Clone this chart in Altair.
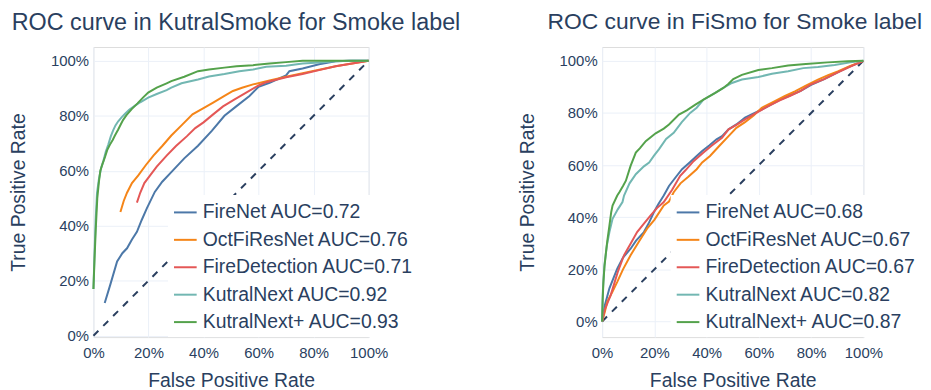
import altair as alt
import pandas as pd

FONT = "Liberation Sans"
TXT = "#2a3f5f"
GRID = "#EBF0F8"
COLORS = ["#4C78A8", "#F58518", "#E45756", "#72B7B2", "#54A24B"]
MODELS = ["FireNet", "OctFiResNet", "FireDetection", "KutralNext", "KutralNext+"]

# ---------------- KutralSmoke ----------------
KS_AUC = ["0.72", "0.76", "0.71", "0.92", "0.93"]

KS_FIRENET_FPR = [0.041, 0.061, 0.086, 0.105, 0.122, 0.14, 0.158, 0.175, 0.194, 0.223, 0.25, 0.283, 0.33, 0.38, 0.43, 0.476, 0.52, 0.567, 0.60, 0.64, 0.70, 0.712, 0.76, 0.82, 0.88, 0.93, 1.0]
KS_FIRENET_TPR = [0.119, 0.185, 0.27, 0.30, 0.318, 0.35, 0.378, 0.42, 0.463, 0.523, 0.56, 0.595, 0.645, 0.691, 0.745, 0.80, 0.835, 0.872, 0.905, 0.92, 0.947, 0.962, 0.972, 0.987, 0.998, 1.0, 1.0]

KS_OCT_FPR = [0.098, 0.11, 0.122, 0.14, 0.163, 0.19, 0.218, 0.25, 0.283, 0.32, 0.36, 0.40, 0.435, 0.476, 0.507, 0.54, 0.58, 0.64, 0.70, 0.76, 0.82, 0.88, 0.94, 1.0]
KS_OCT_TPR = [0.45, 0.49, 0.52, 0.555, 0.583, 0.62, 0.655, 0.69, 0.728, 0.765, 0.805, 0.828, 0.848, 0.872, 0.89, 0.902, 0.914, 0.928, 0.942, 0.955, 0.967, 0.98, 0.99, 1.0]

KS_FIREDET_FPR = [0.158, 0.17, 0.185, 0.206, 0.23, 0.266, 0.30, 0.339, 0.37, 0.40, 0.435, 0.471, 0.51, 0.555, 0.60, 0.628, 0.70, 0.76, 0.82, 0.88, 0.94, 1.0]
KS_FIREDET_TPR = [0.484, 0.52, 0.555, 0.583, 0.615, 0.655, 0.69, 0.725, 0.755, 0.776, 0.805, 0.834, 0.858, 0.884, 0.91, 0.922, 0.94, 0.952, 0.966, 0.98, 0.99, 1.0]

KS_KNEXT_FPR = [0.0, 0.004, 0.008, 0.013, 0.02, 0.028, 0.036, 0.045, 0.054, 0.063, 0.072, 0.08, 0.09, 0.103, 0.115, 0.13, 0.15, 0.17, 0.199, 0.23, 0.266, 0.283, 0.32, 0.38, 0.42, 0.476, 0.53, 0.58, 0.628, 0.70, 0.76, 0.82, 0.88, 0.94, 1.0]
KS_KNEXT_TPR = [0.17, 0.30, 0.42, 0.52, 0.57, 0.61, 0.635, 0.67, 0.695, 0.725, 0.748, 0.765, 0.78, 0.795, 0.807, 0.822, 0.836, 0.849, 0.866, 0.879, 0.893, 0.902, 0.918, 0.932, 0.943, 0.952, 0.962, 0.968, 0.978, 0.982, 0.99, 0.994, 0.998, 1.0, 1.0]

KS_KNEXTP_FPR = [0.0, 0.004, 0.009, 0.014, 0.02, 0.025, 0.033, 0.042, 0.05, 0.06, 0.07, 0.078, 0.09, 0.10, 0.108, 0.12, 0.139, 0.16, 0.18, 0.199, 0.23, 0.266, 0.283, 0.33, 0.38, 0.42, 0.476, 0.52, 0.58, 0.64, 0.70, 0.76, 1.0]
KS_KNEXTP_TPR = [0.17, 0.28, 0.40, 0.50, 0.56, 0.60, 0.625, 0.65, 0.675, 0.695, 0.712, 0.728, 0.75, 0.77, 0.785, 0.802, 0.824, 0.845, 0.866, 0.884, 0.902, 0.918, 0.926, 0.942, 0.962, 0.968, 0.975, 0.98, 0.984, 0.99, 0.995, 1.0, 1.0]

# ---------------- FiSmo ----------------
FS_AUC = ["0.68", "0.67", "0.67", "0.82", "0.87"]

FS_FIRENET_FPR = [0.0, 0.01, 0.028, 0.045, 0.058, 0.08, 0.109, 0.13, 0.16, 0.18, 0.198, 0.215, 0.236, 0.256, 0.286, 0.306, 0.335, 0.362, 0.383, 0.41, 0.438, 0.459, 0.484, 0.514, 0.547, 0.59, 0.636, 0.68, 0.712, 0.76, 0.80, 0.85, 0.89, 0.94, 1.0]
FS_FIRENET_TPR = [0.0, 0.06, 0.127, 0.17, 0.203, 0.245, 0.279, 0.31, 0.343, 0.38, 0.419, 0.45, 0.483, 0.52, 0.559, 0.584, 0.61, 0.635, 0.654, 0.675, 0.699, 0.711, 0.737, 0.756, 0.782, 0.803, 0.826, 0.85, 0.864, 0.885, 0.908, 0.93, 0.95, 0.975, 1.0]

FS_OCT_FPR = [0.0, 0.01, 0.02, 0.04, 0.058, 0.08, 0.109, 0.14, 0.172, 0.20, 0.236, 0.256, 0.274, 0.30, 0.33, 0.362, 0.383, 0.413, 0.45, 0.484, 0.514, 0.547, 0.58, 0.611, 0.65, 0.70, 0.738, 0.78, 0.826, 0.865, 0.902, 0.95, 1.0]
FS_OCT_TPR = [0.0, 0.035, 0.076, 0.115, 0.152, 0.20, 0.254, 0.305, 0.356, 0.39, 0.445, 0.46, 0.496, 0.53, 0.555, 0.584, 0.61, 0.635, 0.675, 0.711, 0.743, 0.765, 0.79, 0.82, 0.84, 0.865, 0.883, 0.905, 0.928, 0.945, 0.959, 0.98, 1.0]

FS_FIREDET_FPR = [0.0, 0.01, 0.033, 0.06, 0.084, 0.11, 0.134, 0.16, 0.185, 0.21, 0.236, 0.268, 0.299, 0.319, 0.35, 0.388, 0.42, 0.459, 0.484, 0.514, 0.547, 0.59, 0.636, 0.68, 0.72, 0.76, 0.80, 0.85, 0.90, 0.95, 1.0]
FS_FIREDET_TPR = [0.0, 0.045, 0.101, 0.19, 0.254, 0.30, 0.343, 0.375, 0.406, 0.435, 0.458, 0.505, 0.559, 0.58, 0.615, 0.648, 0.675, 0.705, 0.737, 0.754, 0.775, 0.80, 0.826, 0.848, 0.866, 0.885, 0.91, 0.93, 0.955, 0.978, 1.0]

FS_KNEXT_FPR = [0.0, 0.003, 0.009, 0.018, 0.028, 0.04, 0.06, 0.078, 0.084, 0.105, 0.129, 0.16, 0.18, 0.198, 0.218, 0.245, 0.274, 0.305, 0.337, 0.362, 0.388, 0.433, 0.464, 0.497, 0.535, 0.598, 0.65, 0.712, 0.77, 0.826, 0.89, 0.95, 1.0]
FS_KNEXT_TPR = [0.0, 0.12, 0.216, 0.29, 0.343, 0.394, 0.43, 0.458, 0.483, 0.53, 0.565, 0.595, 0.61, 0.635, 0.661, 0.70, 0.724, 0.765, 0.80, 0.82, 0.851, 0.877, 0.896, 0.915, 0.928, 0.938, 0.95, 0.96, 0.972, 0.976, 0.984, 0.994, 1.0]

FS_KNEXTP_FPR = [0.0, 0.002, 0.005, 0.009, 0.015, 0.02, 0.028, 0.035, 0.04, 0.058, 0.066, 0.08, 0.091, 0.109, 0.129, 0.145, 0.167, 0.205, 0.236, 0.256, 0.294, 0.324, 0.357, 0.388, 0.433, 0.464, 0.484, 0.502, 0.535, 0.598, 0.65, 0.712, 0.78, 0.864, 0.94, 1.0]
FS_KNEXTP_TPR = [0.0, 0.08, 0.152, 0.21, 0.267, 0.31, 0.368, 0.42, 0.445, 0.483, 0.496, 0.52, 0.54, 0.597, 0.648, 0.665, 0.692, 0.722, 0.74, 0.756, 0.794, 0.81, 0.832, 0.851, 0.877, 0.896, 0.912, 0.93, 0.946, 0.965, 0.972, 0.982, 0.988, 0.994, 0.998, 1.0]

DIAG = [0.0, 1.0]
TICKS = [0.0, 0.2, 0.4, 0.6, 0.8, 1.0]


def build_df(aucs, curves):
    rows = []
    labels = []
    for name, auc, (fpr, tpr) in zip(MODELS, aucs, curves):
        label = f"{name} AUC={auc}"
        labels.append(label)
        for i, (a, b) in enumerate(zip(fpr, tpr)):
            rows.append({"series": label, "fpr": a, "tpr": b, "idx": i})
    return pd.DataFrame(rows), labels


def panel(title, aucs, curves, ydomain, width, legend_x, title_dx, title_size):
    df, labels = build_df(aucs, curves)
    xscale = alt.Scale(domain=[0, 1], nice=False, zero=False)
    yscale = alt.Scale(domain=ydomain, nice=False, zero=False)
    xaxis = alt.Axis(values=TICKS, format=".0%", title="False Positive Rate",
                     labelFontSize=15, titleFontSize=19.5, labelPadding=9,
                     titlePadding=11, grid=True, gridColor=GRID, domain=False,
                     ticks=False, labelFlush=False, labelOverlap=False,
                     labelBound=False)
    yaxis = alt.Axis(values=TICKS, format=".0%", title="True Positive Rate",
                     labelFontSize=15, titleFontSize=19.5, labelPadding=5,
                     titlePadding=22, grid=True, gridColor=GRID, domain=False,
                     ticks=False, labelFlush=False, labelOverlap=False)
    diag_df = pd.DataFrame({"fpr": DIAG, "tpr": DIAG})
    diag = alt.Chart(diag_df).mark_line(
        color="#2a3f5f", strokeWidth=2, strokeDash=[7, 7]
    ).encode(
        x=alt.X("fpr:Q", scale=xscale, axis=xaxis),
        y=alt.Y("tpr:Q", scale=yscale, axis=yaxis),
    )
    lines = alt.Chart(df).mark_line(strokeWidth=2).encode(
        x=alt.X("fpr:Q", scale=xscale, axis=xaxis),
        y=alt.Y("tpr:Q", scale=yscale, axis=yaxis),
        color=alt.Color(
            "series:N",
            sort=labels,
            scale=alt.Scale(domain=labels, range=COLORS),
            legend=alt.Legend(
                title=None, orient="none", legendX=legend_x, legendY=149,
                fillColor="white", padding=5, symbolType="stroke",
                symbolSize=520, symbolStrokeWidth=2, labelFontSize=19.5,
                labelOffset=5, rowPadding=5.6, labelLimit=0,
            ),
        ),
        order="idx:Q",
    )
    return alt.layer(diag, lines).properties(
        width=width, height=292,
        title=alt.TitleParams(title, fontSize=title_size, fontWeight="normal",
                              color=TXT, anchor="middle", dx=title_dx,
                              offset=13),
    )


left = panel("ROC curve in KutralSmoke for Smoke label", KS_AUC, [
    (KS_FIRENET_FPR, KS_FIRENET_TPR), (KS_OCT_FPR, KS_OCT_TPR),
    (KS_FIREDET_FPR, KS_FIREDET_TPR), (KS_KNEXT_FPR, KS_KNEXT_TPR),
    (KS_KNEXTP_FPR, KS_KNEXTP_TPR)], [-0.005, 1.05], 277, 75, 5, 23.5)

right = panel("ROC curve in FiSmo for Smoke label", FS_AUC, [
    (FS_FIRENET_FPR, FS_FIRENET_TPR), (FS_OCT_FPR, FS_OCT_TPR),
    (FS_FIREDET_FPR, FS_FIREDET_TPR), (FS_KNEXT_FPR, FS_KNEXT_TPR),
    (FS_KNEXTP_FPR, FS_KNEXTP_TPR)], [-0.06, 1.053], 263, 69, 2, 23)

chart = alt.hconcat(left, right, spacing=235, bounds="flush").resolve_scale(
    color="independent"
).properties(
    padding={"left": 0, "top": 1, "right": 0, "bottom": 0},
    background="white",
).configure_view(stroke=None).configure(
    font=FONT
).configure_axis(
    labelColor=TXT, titleColor=TXT, labelFont=FONT, titleFont=FONT,
    titleFontWeight="normal",
).configure_legend(
    labelColor=TXT, labelFont=FONT,
).configure_title(font=FONT)

chart.save("out.html", embed_options={"renderer": "svg", "actions": False})
